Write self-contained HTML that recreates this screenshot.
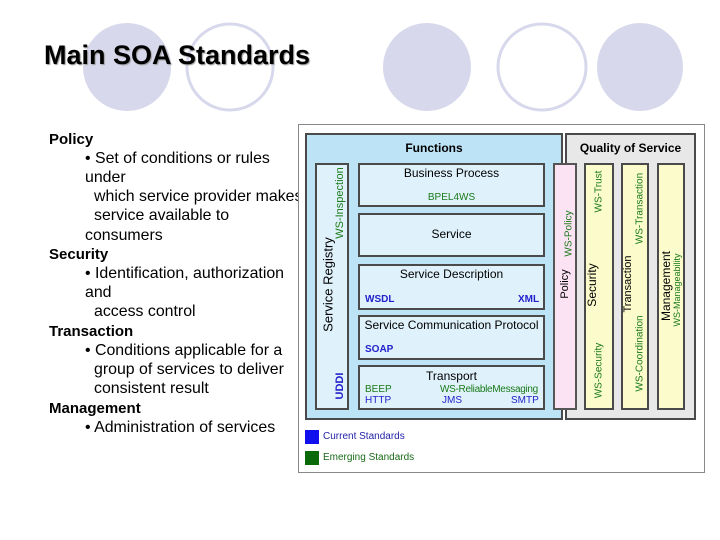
<!DOCTYPE html>
<html><head><style>
body{margin:0;width:720px;height:540px;background:#fff;position:relative;overflow:hidden;font-family:"Liberation Sans",sans-serif}
.a{position:absolute}
.t{position:absolute;font-size:15.9px;color:#000;white-space:nowrap;line-height:19px}
.h{font-weight:bold;font-size:15px}
.box{position:absolute;border:2px solid #4a4a4a;box-sizing:border-box}
.s{font-size:11px;white-space:nowrap}
.v{position:absolute;transform:rotate(-90deg);transform-origin:center;white-space:nowrap;text-align:center}
</style></head><body>
<svg class="a" style="left:0;top:0" width="720" height="130">
<ellipse cx="127" cy="67" rx="44" ry="44" fill="#d8d8ec"/>
<ellipse cx="230" cy="67" rx="43" ry="43" fill="none" stroke="#d8d8ec" stroke-width="3"/>
<ellipse cx="427" cy="67" rx="44" ry="44" fill="#d8d8ec"/>
<ellipse cx="542" cy="67" rx="44" ry="43" fill="none" stroke="#d8d8ec" stroke-width="3"/>
<ellipse cx="640" cy="67" rx="43" ry="44" fill="#d8d8ec"/>
</svg>
<div class="a" style="left:44px;top:40px;font-size:27px;font-weight:bold;text-shadow:1px 1px 1px #999">Main SOA Standards</div>

<div class="t h" style="left:49px;top:130px">Policy</div>
<div class="t" style="left:85px;top:149px">• Set of conditions or rules</div>
<div class="t" style="left:85px;top:168px">under</div>
<div class="t" style="left:94px;top:187px">which service provider makes</div>
<div class="t" style="left:94px;top:206px">service available to</div>
<div class="t" style="left:85px;top:226px">consumers</div>
<div class="t h" style="left:49px;top:245px">Security</div>
<div class="t" style="left:85px;top:264px">• Identification, authorization</div>
<div class="t" style="left:85px;top:283px">and</div>
<div class="t" style="left:94px;top:302px">access control</div>
<div class="t h" style="left:49px;top:322px">Transaction</div>
<div class="t" style="left:85px;top:341px">• Conditions applicable for a</div>
<div class="t" style="left:94px;top:360px">group of services to deliver</div>
<div class="t" style="left:94px;top:379px">consistent result</div>
<div class="t h" style="left:49px;top:399px">Management</div>
<div class="t" style="left:85px;top:418px">• Administration of services</div>

<div class="a" style="left:298px;top:124px;width:407px;height:349px;border:1px solid #888;box-sizing:border-box;background:#fff"></div>
<div class="box" style="left:305px;top:133px;width:258px;height:287px;background:#bde3f7"></div>
<div class="a s" style="left:305px;top:141px;width:258px;text-align:center;font-weight:bold;font-size:12px">Functions</div>
<div class="box" style="left:315px;top:163px;width:34px;height:247px;background:#dff1fb"></div>
<div class="v" style="left:258px;top:277px;width:140px;font-size:13px">Service Registry</div>
<div class="v s" style="left:290px;top:197px;width:100px;color:#1a7a1a">WS-Inspection</div>
<div class="v s" style="left:320px;top:380px;width:40px;color:#2222cc;font-weight:bold">UDDI</div>

<div class="box" style="left:358px;top:163px;width:187px;height:44px;background:#dff1fb"></div>
<div class="a s" style="left:358px;top:166px;width:187px;text-align:center;font-size:12px">Business Process</div>
<div class="a s" style="left:358px;top:192px;width:187px;text-align:center;color:#1a7a1a;font-size:10px">BPEL4WS</div>
<div class="box" style="left:358px;top:213px;width:187px;height:44px;background:#dff1fb"></div>
<div class="a s" style="left:358px;top:227px;width:187px;text-align:center;font-size:12px">Service</div>
<div class="box" style="left:358px;top:264px;width:187px;height:46px;background:#dff1fb"></div>
<div class="a s" style="left:358px;top:267px;width:187px;text-align:center;font-size:12px">Service Description</div>
<div class="a s" style="left:365px;top:294px;color:#2222cc;font-size:10px;font-weight:bold">WSDL</div>
<div class="a s" style="left:518px;top:294px;color:#2222cc;font-size:10px;font-weight:bold">XML</div>
<div class="box" style="left:358px;top:315px;width:187px;height:45px;background:#dff1fb"></div>
<div class="a s" style="left:358px;top:318px;width:187px;text-align:center;font-size:12px">Service Communication Protocol</div>
<div class="a s" style="left:365px;top:344px;color:#2222cc;font-size:10px;font-weight:bold">SOAP</div>
<div class="box" style="left:358px;top:365px;width:187px;height:45px;background:#dff1fb"></div>
<div class="a s" style="left:358px;top:369px;width:187px;text-align:center;font-size:12px">Transport</div>
<div class="a s" style="left:365px;top:384px;color:#1a7a1a;font-size:10px">BEEP</div>
<div class="a s" style="left:440px;top:384px;color:#1a7a1a;font-size:10px;letter-spacing:-0.3px">WS-ReliableMessaging</div>
<div class="a s" style="left:365px;top:395px;color:#2222cc;font-size:10px">HTTP</div>
<div class="a s" style="left:442px;top:395px;color:#2222cc;font-size:10px">JMS</div>
<div class="a s" style="left:511px;top:395px;color:#2222cc;font-size:10px">SMTP</div>

<div class="box" style="left:565px;top:133px;width:131px;height:287px;background:#e8e8e8"></div>
<div class="a s" style="left:565px;top:141px;width:131px;text-align:center;font-weight:bold;font-size:12px">Quality of Service</div>
<div class="box" style="left:553px;top:163px;width:24px;height:247px;background:#fbe3f3;border-color:#555"></div>
<div class="v" style="left:525px;top:278px;width:80px;font-size:11px">Policy</div>
<div class="v s" style="left:534px;top:228px;width:70px;color:#1a7a1a;font-size:10px">WS-Policy</div>
<div class="box" style="left:584px;top:163px;width:30px;height:247px;background:#fbfbcb"></div>
<div class="v" style="left:552px;top:278px;width:80px;font-size:12px">Security</div>
<div class="v s" style="left:569px;top:186px;width:60px;color:#1a7a1a;font-size:10px">WS-Trust</div>
<div class="v s" style="left:564px;top:365px;width:70px;color:#1a7a1a;font-size:10px">WS-Security</div>
<div class="box" style="left:621px;top:163px;width:28px;height:247px;background:#fbfbcb"></div>
<div class="v" style="left:588px;top:278px;width:80px;font-size:11px">Transaction</div>
<div class="v s" style="left:595px;top:203px;width:90px;color:#1a7a1a;font-size:10px">WS-Transaction</div>
<div class="v s" style="left:595px;top:348px;width:90px;color:#1a7a1a;font-size:10px">WS-Coordination</div>
<div class="box" style="left:657px;top:163px;width:28px;height:247px;background:#fbfbcb"></div>
<div class="v" style="left:616px;top:279px;width:100px;font-size:12px">Management</div>
<div class="v s" style="left:627px;top:285px;width:100px;color:#1a7a1a;font-size:9px">WS-Manageability</div>

<div class="a" style="left:305px;top:430px;width:14px;height:14px;background:#1010ee"></div>
<div class="a s" style="left:323px;top:431px;color:#2222aa;font-size:10px">Current Standards</div>
<div class="a" style="left:305px;top:451px;width:14px;height:14px;background:#0a6a0a"></div>
<div class="a s" style="left:323px;top:452px;color:#1a6a1a;font-size:10px">Emerging Standards</div>
</body></html>
